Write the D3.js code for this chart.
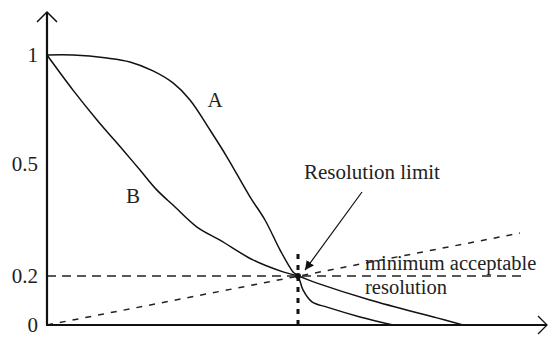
<!DOCTYPE html>
<html lang="en">
<head>
    <meta charset="UTF-8">
    <script src="https://d3js.org/d3.v7.min.js"></script>
    <title>Resolution limit</title>
    <style>
        body { margin: 0; background: #fff; }
        text { font-family: "Liberation Serif", "Times New Roman", serif; fill: #222; }
    </style>
</head>
<body>
    <figure style="margin:0"></figure>
    <script>
        // curve A and curve B (x in arbitrary units, y = normalised value)
        const curveA = [
            [0, 1], [0.52, 1], [1.2, 0.986], [1.66, 0.968], [2.12, 0.927], [2.52, 0.872],
            [2.86, 0.794], [3.26, 0.656], [3.6, 0.532], [4.06, 0.412], [4.36, 0.35],
            [4.66, 0.27], [4.92, 0.211], [5.02, 0.2], [5.12, 0.143], [5.3, 0.094],
            [5.6, 0.073], [6.26, 0.033], [6.92, 0]
        ];
        const curveB = [
            [0, 1], [0.52, 0.839], [1.0, 0.702], [1.52, 0.564], [1.86, 0.484], [2.2, 0.43],
            [2.52, 0.39], [3.0, 0.331], [3.46, 0.296], [4.12, 0.243], [4.72, 0.211],
            [5.02, 0.2], [5.4, 0.171], [6.46, 0.102], [7.8, 0.029], [8.32, 0]
        ];
        const rising = [[0, 0], [9.46, 0.315]];
        const minLine = [[0, 0.2], [9.52, 0.2]];
        const limitLine = [[5.02, 0], [5.02, 0.272]];
        const yTicks = [0, 0.2, 0.5, 1];
        const yTickLabels = ["0", "0.2", "0.5", "1"];

        const w = 550;
        const h = 338;

        // x is linear, y axis is schematic (not to scale)
        const xScale = d3.scaleLinear().domain([0, 10]).range([47, 547]);
        const yScale = d3.scaleLinear().domain([0, 0.2, 0.5, 1]).range([325, 276, 164, 55]);

        const svg = d3.select("figure").append("svg")
            .attr("width", w)
            .attr("height", h);

        const line = d3.line()
            .x(d => xScale(d[0]))
            .y(d => yScale(d[1]));
        const smooth = d3.line()
            .x(d => xScale(d[0]))
            .y(d => yScale(d[1]))
            .curve(d3.curveCatmullRom);

        // reference lines
        svg.append("path").attr("d", line(minLine))
            .attr("fill", "none").attr("stroke", "#222").attr("stroke-width", 1.6)
            .attr("stroke-dasharray", "9,6");
        svg.append("path").attr("d", line(rising))
            .attr("fill", "none").attr("stroke", "#222").attr("stroke-width", 1.5)
            .attr("stroke-dasharray", "6,7");
        svg.append("path").attr("d", line(limitLine))
            .attr("fill", "none").attr("stroke", "#111").attr("stroke-width", 3)
            .attr("stroke-dasharray", "5,6");

        // curves
        [curveA, curveB].forEach(c => {
            svg.append("path").attr("d", smooth(c))
                .attr("fill", "none").attr("stroke", "#111").attr("stroke-width", 1.5);
        });
        svg.append("circle")
            .attr("cx", xScale(5.02)).attr("cy", yScale(0.2)).attr("r", 3)
            .attr("fill", "#111");

        // axes
        svg.append("line")
            .attr("x1", xScale(0)).attr("y1", yScale(0))
            .attr("x2", xScale(0)).attr("y2", 12)
            .attr("stroke", "#111").attr("stroke-width", 2.2);
        svg.append("path")
            .attr("d", `M${xScale(0) - 10},22 L${xScale(0)},12 L${xScale(0) + 10},22`)
            .attr("fill", "none").attr("stroke", "#111").attr("stroke-width", 1.5);
        svg.append("line")
            .attr("x1", xScale(0) - 1).attr("y1", yScale(0))
            .attr("x2", xScale(10)).attr("y2", yScale(0))
            .attr("stroke", "#111").attr("stroke-width", 1.8);
        svg.append("path")
            .attr("d", `M${xScale(10) - 9},${yScale(0) - 9} L${xScale(10)},${yScale(0)} L${xScale(10) - 9},${yScale(0) + 9}`)
            .attr("fill", "none").attr("stroke", "#111").attr("stroke-width", 1.3);

        const yAxis = d3.axisLeft(yScale)
            .tickValues(yTicks)
            .tickSize(0)
            .tickPadding(9)
            .tickFormat((d, i) => yTickLabels[i]);
        const gy = svg.append("g")
            .attr("transform", `translate(${xScale(0)},0)`)
            .call(yAxis);
        gy.select(".domain").remove();
        gy.selectAll("text")
            .style("font-size", "21px")
            .style("font-family", "'Liberation Serif', 'Times New Roman', serif")
            .attr("fill", "#222");

        // labels
        svg.append("text").attr("x", xScale(3.36)).attr("y", yScale(0.761))
            .attr("text-anchor", "middle").style("font-size", "21px").text("A");
        svg.append("text").attr("x", xScale(1.72)).attr("y", yScale(0.396))
            .attr("text-anchor", "middle").style("font-size", "21px").text("B");

        // annotation
        svg.append("defs").append("marker")
            .attr("id", "head")
            .attr("viewBox", "0 0 10 10")
            .attr("refX", 10).attr("refY", 5)
            .attr("markerWidth", 9).attr("markerHeight", 9)
            .attr("markerUnits", "userSpaceOnUse")
            .attr("orient", "auto")
            .append("path").attr("d", "M0,0 L10,5 L0,10 Z").attr("fill", "#111");
        svg.append("line")
            .attr("x1", xScale(6.3)).attr("y1", yScale(0.425))
            .attr("x2", xScale(5.16)).attr("y2", yScale(0.216))
            .attr("stroke", "#111").attr("stroke-width", 1.2)
            .attr("marker-end", "url(#head)");
        svg.append("text").attr("x", xScale(5.14)).attr("y", yScale(0.46))
            .style("font-size", "21px").text("Resolution limit");
        svg.append("text").attr("x", xScale(6.36)).attr("y", yScale(0.215))
            .style("font-size", "20.5px").text("minimum acceptable");
        svg.append("text").attr("x", xScale(6.36)).attr("y", yScale(0.127))
            .style("font-size", "20.5px").text("resolution");
    </script>
</body>
</html>
